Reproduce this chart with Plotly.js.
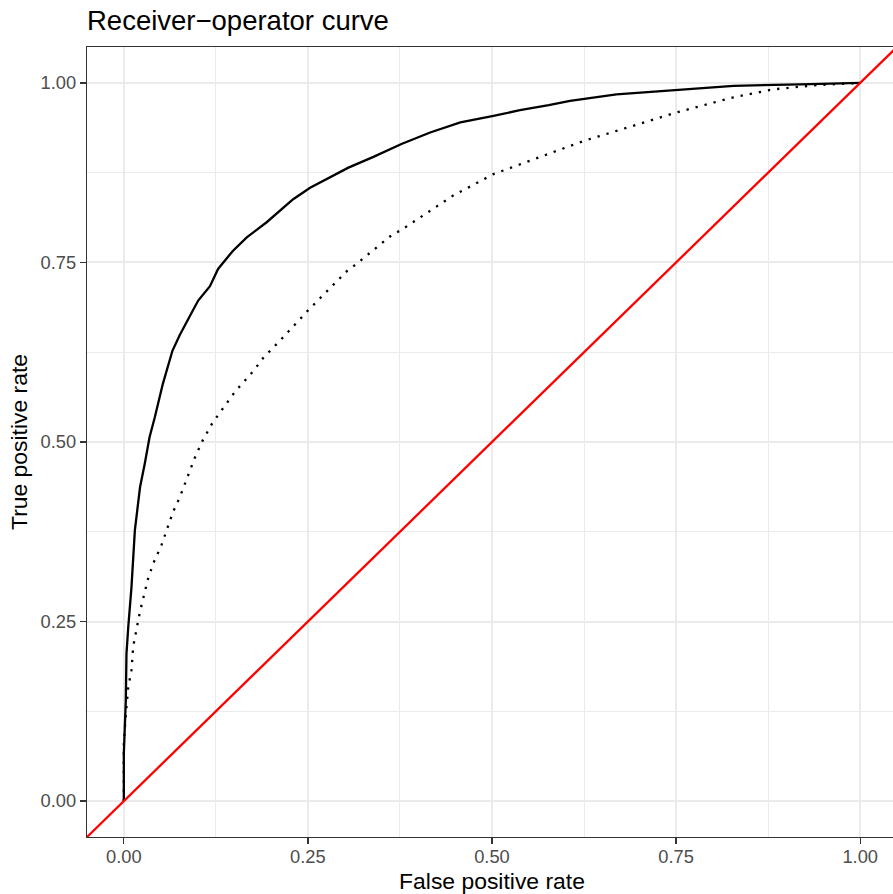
<!DOCTYPE html>
<html>
<head>
<meta charset="utf-8">
<script src="https://cdn.plot.ly/plotly-3.0.1.min.js"></script>
<style>
html, body { margin:0; padding:0; overflow:hidden; background:#fff; }
#chart { width:900px; height:894px; }
</style>
</head>
<body>
<div id="chart"></div>
<script>
// Solid curve (model A)
const fprA = [0, 0.0, 0.0027, 0.0036, 0.006, 0.0104, 0.015, 0.022, 0.0285, 0.035, 0.042, 0.053, 0.066, 0.076, 0.089, 0.101, 0.117, 0.128, 0.148, 0.167, 0.194, 0.230, 0.253, 0.284, 0.305, 0.339, 0.377, 0.416, 0.457, 0.502, 0.538, 0.577, 0.606, 0.669, 0.751, 0.828, 0.918, 1.0];
const tprA = [0, 0.066, 0.14, 0.205, 0.242, 0.298, 0.377, 0.437, 0.470, 0.507, 0.534, 0.581, 0.627, 0.649, 0.674, 0.697, 0.717, 0.741, 0.766, 0.785, 0.806, 0.838, 0.854, 0.871, 0.882, 0.897, 0.915, 0.931, 0.945, 0.954, 0.962, 0.969, 0.975, 0.984, 0.990, 0.996, 0.998, 1.0];
// Dotted curve (model B)
const fprB = [0, 0, 0.0027, 0.006, 0.0104, 0.0127, 0.017, 0.022, 0.033, 0.040, 0.051, 0.058, 0.067, 0.076, 0.087, 0.096, 0.106, 0.120, 0.151, 0.176, 0.19, 0.212, 0.250, 0.303, 0.316, 0.366, 0.375, 0.416, 0.447, 0.502, 0.577, 0.624, 0.751, 0.828, 0.882, 0.941, 1.0];
const tprB = [0, 0.08, 0.12, 0.159, 0.182, 0.215, 0.238, 0.264, 0.310, 0.331, 0.356, 0.377, 0.403, 0.423, 0.454, 0.477, 0.500, 0.526, 0.570, 0.599, 0.618, 0.641, 0.683, 0.738, 0.748, 0.790, 0.794, 0.822, 0.843, 0.873, 0.901, 0.919, 0.959, 0.980, 0.991, 0.997, 1.0];
// Reference diagonal
const diagX = [-0.1, 1.1];
const diagY = [-0.1, 1.1];
const tickVals = [0, 0.25, 0.5, 0.75, 1];
const tickText = ["0.00", "0.25", "0.50", "0.75", "1.00"];
const minorVals = [0.125, 0.375, 0.625, 0.875];

const FONT = "Liberation Sans, Arial, Helvetica, sans-serif";

const traces = [
  { x: fprA, y: tprA, type: 'scatter', mode: 'lines', line: { color: '#000000', width: 2.3 }, hoverinfo: 'skip' },
  { x: fprB, y: tprB, type: 'scatter', mode: 'lines', line: { color: '#000000', width: 2.3, dash: '2.3px,7px' }, hoverinfo: 'skip' },
  { x: diagX, y: diagY, type: 'scatter', mode: 'lines', line: { color: '#FF0000', width: 2.3 }, hoverinfo: 'skip' }
];

const axisCommon = {
  tickmode: 'array',
  tickvals: tickVals,
  ticktext: tickText,
  showgrid: true,
  gridcolor: '#EBEBEB',
  gridwidth: 2,
  zeroline: false,
  showline: true,
  mirror: true,
  linecolor: '#333333',
  linewidth: 1.2,
  ticks: 'outside',
  ticklen: 6,
  tickwidth: 1.2,
  tickcolor: '#333333',
  tickfont: { family: FONT, size: 18.3, color: '#4D4D4D' },
  minor: { tickmode: 'array', tickvals: minorVals, showgrid: true, gridcolor: '#EBEBEB', gridwidth: 1, ticks: '' }
};

const layout = {
  width: 900,
  height: 894,
  margin: { l: 87, r: 3, t: 47, b: 57 },
  paper_bgcolor: '#FFFFFF',
  plot_bgcolor: '#FFFFFF',
  showlegend: false,
  font: { family: FONT, color: '#000000' },
  title: {
    text: 'Receiver−operator curve',
    font: { family: FONT, size: 27.5, color: '#000000' },
    xref: 'paper', x: 0, xanchor: 'left',
    yref: 'container', y: 0.9776, yanchor: 'middle'
  },
  xaxis: Object.assign({}, axisCommon, {
    range: [-0.05, 1.05],
    ticklabelstandoff: -3,
    title: { text: 'False positive rate', font: { family: FONT, size: 22.9, color: '#000000' }, standoff: 6 }
  }),
  yaxis: Object.assign({}, axisCommon, {
    range: [-0.05, 1.05],
    title: { text: 'True positive rate', font: { family: FONT, size: 22.9, color: '#000000' }, standoff: 6 }
  })
};

Plotly.newPlot('chart', traces, layout, { displayModeBar: false, staticPlot: true });
</script>
</body>
</html>
